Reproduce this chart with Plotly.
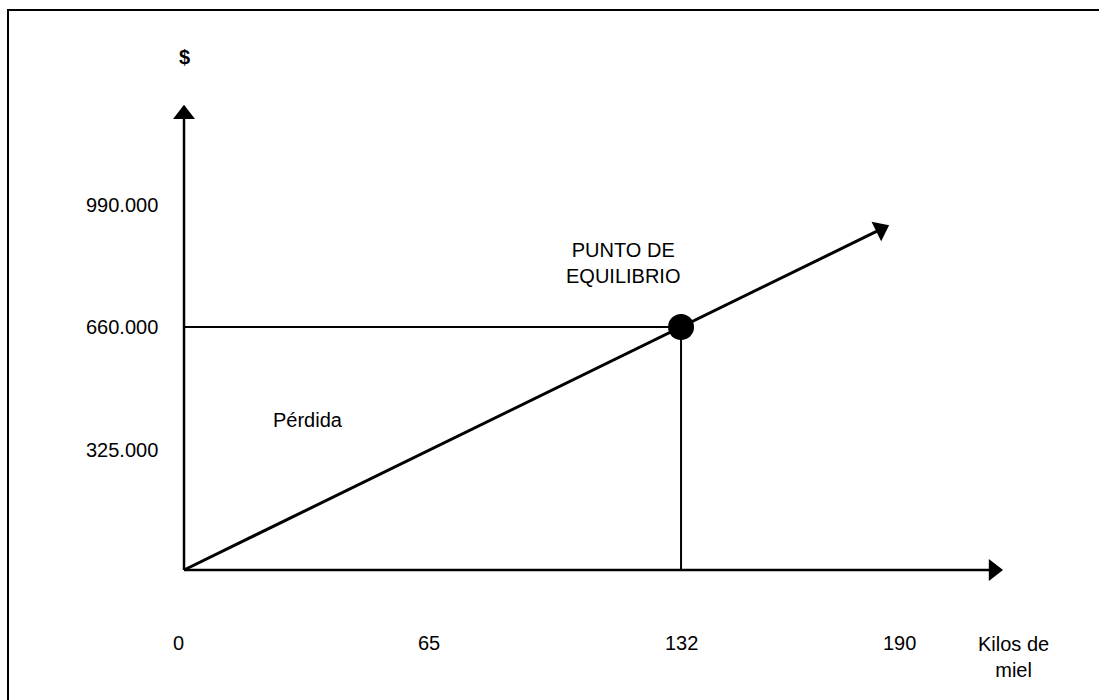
import plotly.graph_objects as go

# ---- data (thousands of $ / kilos) ----
x_ticks = [0, 65, 132, 190]
x_tick_labels = ["0", "65", "132", "190"]
y_ticks = [325, 660, 990]
y_tick_labels = ["325.000", "660.000", "990.000"]
equilibrium_x = 132
equilibrium_y = 660
line_x = [0, 185]
line_y = [0, 925]

# axis extents (drawing)
X_AXIS_END = 215
Y_AXIS_END = 1238

W, H = 1099, 700
x_range = [-48.87, 243.0]
y_range = [-353.1, 1548.1]

FONT = "Arial, Liberation Sans, sans-serif"
FS = 20

fig = go.Figure()

# reference lines to equilibrium
fig.add_trace(go.Scatter(x=[0, equilibrium_x], y=[equilibrium_y, equilibrium_y], mode="lines",
                         line=dict(color="black", width=2), hoverinfo="skip"))
fig.add_trace(go.Scatter(x=[equilibrium_x, equilibrium_x], y=[0, equilibrium_y], mode="lines",
                         line=dict(color="black", width=2), hoverinfo="skip"))

arrow = dict(symbol="triangle-up", size=[0, 19], color="black", angleref="previous",
             line=dict(width=0), opacity=1)

# axes with arrows
fig.add_trace(go.Scatter(x=[0, X_AXIS_END], y=[0, 0], mode="lines+markers",
                         line=dict(color="black", width=2.5), marker=arrow, hoverinfo="skip"))
fig.add_trace(go.Scatter(x=[0, 0], y=[0, Y_AXIS_END], mode="lines+markers",
                         line=dict(color="black", width=2.5), marker=arrow, hoverinfo="skip"))

# revenue line
fig.add_trace(go.Scatter(x=line_x, y=line_y, mode="lines+markers",
                         line=dict(color="black", width=3), marker=arrow, hoverinfo="skip"))

# equilibrium point
fig.add_trace(go.Scatter(x=[equilibrium_x], y=[equilibrium_y], mode="markers",
                         marker=dict(size=26, color="black"), hoverinfo="skip"))

tf = dict(family=FONT, size=FS, color="black")
ann = []
for v, t in zip(y_ticks, y_tick_labels):
    ann.append(dict(x=0, y=v, xref="x", yref="y", text=t, showarrow=False,
                    xanchor="right", yanchor="middle", xshift=-24, font=tf))
for v, t in zip(x_ticks, x_tick_labels):
    ann.append(dict(x=v, y=0, xref="x", yref="y", text=t, showarrow=False,
                    xanchor="center", yanchor="middle", yshift=-73, xshift=-6 if v == 0 else 0,
                    font=tf))
ann.append(dict(x=0, y=Y_AXIS_END, xref="x", yref="y", text="<b>$</b>", showarrow=False,
                xanchor="center", yanchor="middle", yshift=57, font=tf))
ann.append(dict(x=1013 / W, y=1 - 657 / H, xref="paper", yref="paper", text="Kilos de<br>miel",
                showarrow=False, xanchor="center", yanchor="middle", font=tf))
ann.append(dict(x=623 / W, y=1 - 263 / H, xref="paper", yref="paper", text="PUNTO DE<br>EQUILIBRIO",
                showarrow=False, xanchor="center", yanchor="middle", font=tf))
ann.append(dict(x=308 / W, y=1 - 420 / H, xref="paper", yref="paper", text="Pérdida",
                showarrow=False, xanchor="center", yanchor="middle", font=tf))

fig.update_layout(
    width=W, height=H,
    margin=dict(l=0, r=0, t=0, b=0),
    paper_bgcolor="white", plot_bgcolor="white",
    showlegend=False,
    xaxis=dict(range=x_range, visible=False, fixedrange=True),
    yaxis=dict(range=y_range, visible=False, fixedrange=True),
    annotations=ann,
    shapes=[dict(type="rect", xref="paper", yref="paper",
                 x0=8 / W, x1=1.02, y0=-0.02, y1=1 - 10 / H,
                 line=dict(color="black", width=2), layer="above")],
)

fig.write_html("out.html", config={"displayModeBar": False},
               post_script="document.body.style.margin='0';document.body.style.overflow='hidden';")
